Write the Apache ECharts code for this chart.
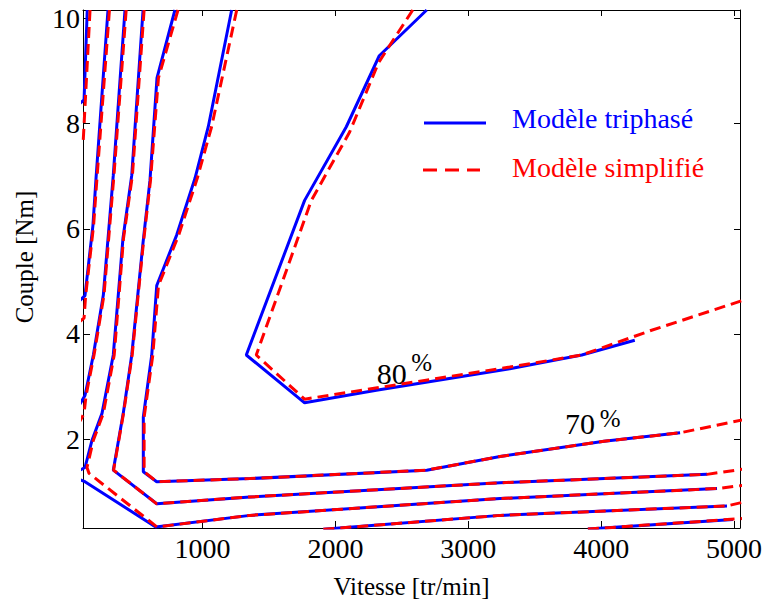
<!DOCTYPE html>
<html><head><meta charset="utf-8">
<script src="https://cdn.jsdelivr.net/npm/echarts@6/dist/echarts.min.js"></script>
<style>html,body{margin:0;padding:0;background:#fff}#c{width:769px;height:599px}</style>
</head><body><div id="c"></div>
<script>
// Axis ticks
const xTicks = [1000, 2000, 3000, 4000, 5000];
const yTicks = [2, 4, 6, 8, 10];
const xName = 'Vitesse [tr/min]';
const yName = 'Couple [Nm]';
const legendNames = ['Modèle triphasé', 'Modèle simplifié'];

// Iso-efficiency contours, [speed (tr/min), torque (Nm)]
// Modèle triphasé (blue, solid)
const tri80 = [[2687,10.16],[2330,9.29],[2082,7.94],[1768,6.54],[1329,3.60],[1768,2.69],[2308,2.93],[3312,3.34],[3854,3.60],[4253,3.88]];
const tri70 = [[1219,10.16],[1043,7.94],[943,6.96],[805,5.88],[655,4.92],[617,3.59],[554,2.42],[554,1.38],[655,1.19],[1357,1.25],[2687,1.41],[3239,1.67],[4022,1.96],[4594,2.12]];
const tri60 = [[792,10.16],[657,8.87],[604,6.92],[552,5.74],[467,3.60],[403,2.49],[328,1.41],[655,0.77],[1357,0.90],[3239,1.17],[4797,1.33]];
const tri50 = [[552,10.16],[467,7.02],[401,5.82],[328,3.60],[243,2.49],[168,1.98],[115,1.46],[2,1.31],[115,1.19],[647,0.33],[1357,0.55],[3239,0.87],[4872,1.06]];
const tri40 = [[416,10.16],[328,7.02],[253,4.74],[178,3.60],[115,2.83],[-100,1.9]];
const tri30 = [[288,10.16],[198,6.96],[175,6.07],[115,4.73],[-100,4.2]];
const tri20 = [[132,10.16],[108,8.45],[-100,8.0]];
const triD = [[1909,0.285],[3239,0.55],[4947,0.73]];
const triE = [[3900,0.29],[4992,0.47]];

// Modèle simplifié (red, dashed)
const simp80 = [[2582,10.16],[2386,9.40],[2323,9.15],[2107,7.84],[1819,6.54],[1404,3.60],[1768,2.76],[3312,3.37],[3854,3.60],[4368,4.06],[5068,4.64]];
const simp70 = [[1257,10.16],[1068,7.94],[960,6.96],[820,5.88],[668,4.92],[625,3.59],[560,2.42],[560,1.38],[655,1.19],[1357,1.25],[2687,1.41],[3239,1.67],[4022,1.96],[4594,2.12],[5070,2.37]];
const simp60 = [[815,10.16],[668,8.87],[608,6.92],[555,5.74],[470,3.60],[405,2.49],[330,1.41],[655,0.77],[1357,0.90],[3239,1.17],[4797,1.33],[5068,1.43]];
const simp50 = [[560,10.16],[472,7.02],[405,5.82],[335,3.60],[253,2.49],[178,1.98],[130,1.46],[145,1.35],[657,0.33],[1357,0.55],[3239,0.87],[4872,1.06],[5068,1.12]];
const simp40 = [[425,10.16],[333,7.02],[258,4.74],[183,3.60],[123,2.83],[108,2.49],[-100,1.5]];
const simp30 = [[299,10.16],[205,6.96],[180,6.07],[120,4.73],[108,4.30],[-100,3.9]];
const simp20 = [[153,10.16],[102,7.69],[-100,7.2]];
const simpD = [[1909,0.285],[3239,0.55],[4947,0.73],[5068,0.80]];
const simpE = [[3900,0.29],[5068,0.49]];

// Contour labels: [text, speed, torque, size]
const annot = [['80', 2423, 3.25, 30], ['%', 2649, 3.46, 25], ['70', 3841, 2.30, 30], ['%', 4067, 2.40, 25]];

const FONT = 'Liberation Serif';
const BLUE = '#0000ff', RED = '#ff0000';

const triSets = [tri80, tri70, tri60, tri50, tri40, tri30, tri20, triD, triE];
const simpSets = [simp80, simp70, simp60, simp50, simp40, simp30, simp20, simpD, simpE];

const series = [];
triSets.forEach(d => series.push({
  type: 'line', name: legendNames[0], data: d, showSymbol: false, symbol: 'none',
  lineStyle: { color: BLUE, width: 3, type: 'solid' }, z: 2, silent: true, clip: true
}));
simpSets.forEach(d => series.push({
  type: 'line', name: legendNames[1], data: d, showSymbol: false, symbol: 'none',
  lineStyle: { color: RED, width: 3, type: [11, 6] }, z: 3, silent: true, clip: true
}));

const axLine = { show: true, onZero: false, lineStyle: { color: '#000', width: 1 } };
const tickStyle = { color: '#000', width: 1 };
const lblStyle = { color: '#000', fontFamily: FONT, fontSize: 28, fontWeight: 'normal' };

const chart = echarts.init(document.getElementById('c'), null, { renderer: 'svg' });
chart.setOption({
  animation: false,
  backgroundColor: '#fff',
  grid: { left: 83, top: 10, width: 657, height: 518, containLabel: false, outerBoundsMode: 'none' },
  xAxis: [
    { type: 'value', min: 100, max: 5045, position: 'bottom',
      axisLine: axLine,
      axisTick: { inside: true, length: 7, customValues: xTicks, lineStyle: tickStyle },
      axisLabel: Object.assign({ customValues: xTicks, margin: 6, formatter: v => String(v) }, lblStyle),
      splitLine: { show: false },
      name: xName, nameLocation: 'middle', nameGap: 46,
      nameTextStyle: { color: '#000', fontFamily: FONT, fontSize: 25 } },
    { type: 'value', min: 100, max: 5045, position: 'top',
      axisLine: axLine,
      axisTick: { inside: true, length: 6, customValues: xTicks, lineStyle: tickStyle },
      axisLabel: { show: false }, splitLine: { show: false } }
  ],
  yAxis: [
    { type: 'value', min: 0.31, max: 10.16, position: 'left',
      axisLine: axLine,
      axisTick: { inside: true, length: 7, customValues: yTicks, lineStyle: tickStyle },
      axisLabel: Object.assign({ customValues: yTicks, margin: 3, formatter: v => String(v) }, lblStyle),
      splitLine: { show: false } },
    { type: 'value', min: 0.31, max: 10.16, position: 'right',
      axisLine: axLine,
      axisTick: { inside: true, length: 6, customValues: yTicks, lineStyle: tickStyle },
      axisLabel: { show: false }, splitLine: { show: false } }
  ],
  series: series
});

const graphics = [
  { type: 'text', x: 24, y: 257, rotation: Math.PI / 2,
    style: { text: yName, fill: '#000', font: '25px "' + FONT + '"', textAlign: 'center', textVerticalAlign: 'middle' } },
  { type: 'line', shape: { x1: 424, y1: 123, x2: 486, y2: 123 }, style: { stroke: BLUE, lineWidth: 3 } },
  { type: 'line', shape: { x1: 423, y1: 170, x2: 480, y2: 170 }, style: { stroke: RED, lineWidth: 3, lineDash: [14, 8] } },
  { type: 'text', x: 512, y: 118,
    style: { text: legendNames[0], fill: BLUE, font: '28px "' + FONT + '"', textAlign: 'left', textVerticalAlign: 'middle' } },
  { type: 'text', x: 512, y: 167,
    style: { text: legendNames[1], fill: RED, font: '28px "' + FONT + '"', textAlign: 'left', textVerticalAlign: 'middle' } }
];
annot.forEach(a => {
  const p = chart.convertToPixel({ xAxisIndex: 0, yAxisIndex: 0 }, [a[1], a[2]]);
  graphics.push({ type: 'text', x: p[0], y: p[1],
    style: { text: a[0], fill: '#000', font: a[3] + 'px "' + FONT + '"', textAlign: 'center', textVerticalAlign: 'middle' } });
});
chart.setOption({ graphic: graphics });
</script>
</body></html>
